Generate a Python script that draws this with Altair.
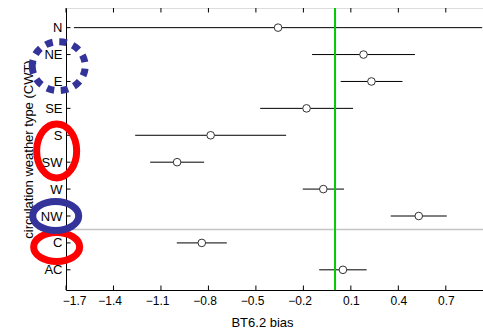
import altair as alt
import pandas as pd

# ---- data ----
cwt = ["N", "NE", "E", "SE", "S", "SW", "W", "NW", "C", "AC"]
bias = [-0.36, 0.18, 0.23, -0.18, -0.786, -0.998, -0.074, 0.529, -0.842, 0.05]
low = [-1.65, -0.145, 0.036, -0.473, -1.263, -1.168, -0.204, 0.352, -1.00, -0.10]
high = [0.93, 0.505, 0.426, 0.114, -0.309, -0.827, 0.057, 0.706, -0.684, 0.20]
x_ticks = [-1.7, -1.4, -1.1, -0.8, -0.5, -0.2, 0.1, 0.4, 0.7]
ref_line = [0.0]
separator = [8.5]

df = pd.DataFrame({"pos": list(range(1, len(cwt) + 1)), "cwt": cwt,
                   "bias": bias, "low": low, "high": high})
ticks_df = pd.DataFrame({"v": x_ticks})
ref_df = pd.DataFrame({"r": ref_line})
sep_df = pd.DataFrame({"s": separator})
one = pd.DataFrame({"a": [0]})

W, H = 417, 282
FONT = "Liberation Sans"
xscale = alt.Scale(domain=[-1.7, 0.935], nice=False, zero=False)
yscale = alt.Scale(domain=[0.27, 10.75], reverse=True, nice=False, zero=False)

label_expr = "[" + ",".join(f"'{c}'" for c in cwt) + "][datum.value - 1]"

xaxis = alt.Axis(values=x_ticks, format=".1f", title="BT6.2 bias", grid=False,
                 ticks=False, tickSize=0, labelPadding=5, labelFontSize=12,
                 labelOffset={"condition": {"test": "datum.value < 0", "value": -3.8},
                              "value": 0},
                 labelColor="black", titleFontSize=13, titleFontWeight="normal",
                 titleColor="black", domainColor="black", titleX=196, titleY=32.5,
                 titleBaseline="middle", titleAlign="center", labelFont=FONT,
                 titleFont=FONT)
yaxis = alt.Axis(values=list(range(1, len(cwt) + 1)), labelExpr=label_expr,
                 title="circulation weather type (CWT)", grid=False, ticks=False,
                 tickSize=0, labelPadding=4, labelFontSize=13, labelColor="black",
                 titleFontSize=13, titleFontWeight="normal", titleColor="black",
                 domainColor="black", titleX=-38, titleY=141,
                 titleBaseline="middle", titleAlign="center", labelFont=FONT,
                 titleFont=FONT)


def X(f):
    return alt.X(f, scale=xscale, axis=xaxis)


def Y(f):
    return alt.Y(f, scale=yscale, axis=yaxis)


errbars = alt.Chart(df).mark_rule(color="black", strokeWidth=1, clip=True).encode(
    x=X("low:Q"), x2="high:Q", y=Y("pos:Q"))

points = alt.Chart(df).mark_point(shape="circle", size=58, stroke="#333333",
                                  strokeWidth=1, fill="white", filled=True,
                                  opacity=1, fillOpacity=1, strokeOpacity=1).encode(
    x=X("bias:Q"), y=Y("pos:Q"))

top_ticks = alt.Chart(ticks_df).mark_rule(color="black", strokeWidth=1).encode(
    x=X("v:Q"), y=alt.value(0), y2=alt.value(4.5))
bot_ticks = alt.Chart(ticks_df).mark_rule(color="black", strokeWidth=1).encode(
    x=X("v:Q"), y=alt.value(H), y2=alt.value(H - 4.5))
left_ticks = alt.Chart(df).mark_rule(color="black", strokeWidth=1).encode(
    y=Y("pos:Q"), x=alt.value(0), x2=alt.value(4.5))

sep = alt.Chart(sep_df).mark_rule(color="#c4c4c4", strokeWidth=1.5).encode(
    y=Y("s:Q"))
zero = alt.Chart(ref_df).mark_rule(color="#00cc00", strokeWidth=2).encode(
    x=X("r:Q"))


def ellipse(xv, yv, w, h, color, dash=None):
    if w >= h:
        rx, ry, s = 1.0, h / w, w * w
    else:
        rx, ry, s = w / h, 1.0, h * h
    path = (f"M {-rx} 0 A {rx} {ry} 0 1 0 {rx} 0 "
            f"A {rx} {ry} 0 1 0 {-rx} 0 Z")
    kw = dict(shape=path, size=s, stroke=color, strokeWidth=7, filled=False,
              opacity=1, strokeOpacity=1)
    if dash:
        kw["strokeDash"] = dash
        kw["strokeCap"] = "butt"
    return alt.Chart(one).mark_point(**kw).encode(
        x=alt.XDatum(xv, type="quantitative", scale=xscale, axis=xaxis),
        y=alt.YDatum(yv, type="quantitative", scale=yscale, axis=yaxis),
    )


BLUE = "#333399"
RED = "#ff0000"
e1 = ellipse(-1.746, 2.43, 53, 49, BLUE, dash=[7.5, 6.5])
e2 = ellipse(-1.759, 5.58, 40, 54, RED)
e3 = ellipse(-1.759, 9.15, 46, 29, RED)
e4 = ellipse(-1.765, 8.0, 46, 29, BLUE)

chart = alt.layer(
    sep, top_ticks, bot_ticks, left_ticks, errbars, zero, points, e1, e2, e3, e4
).properties(
    width=W, height=H,
    autosize=alt.AutoSizeParams(type="none"),
    padding={"left": 66, "top": 8, "right": 0, "bottom": 39},
).configure_view(stroke="black", strokeWidth=1).configure(background="white")

chart.save("out.html", embed_options={"renderer": "svg", "actions": False})
